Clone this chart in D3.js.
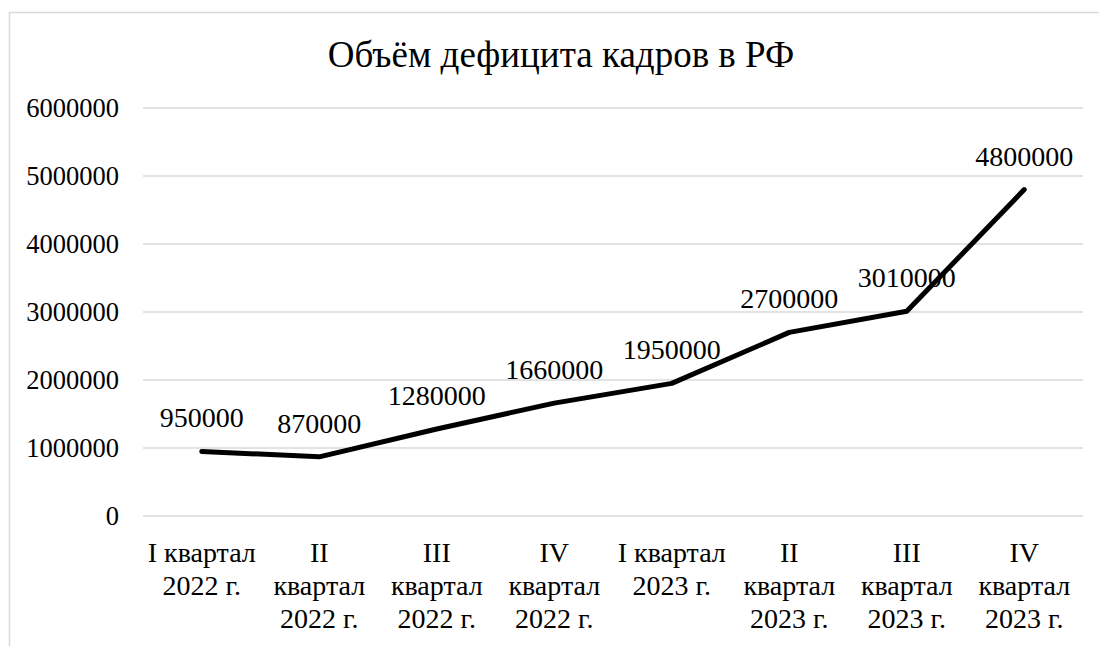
<!DOCTYPE html>
<html>
<head>
<meta charset="utf-8">
<script src="https://cdn.jsdelivr.net/npm/d3@7"></script>
<style>
  body { margin: 0; background: #fff; }
</style>
</head>
<body>
<div id="chart"></div>
<script>
const titleText = "Объём дефицита кадров в РФ";
const categories = ["I квартал 2022 г.", "II квартал 2022 г.", "III квартал 2022 г.", "IV квартал 2022 г.",
                    "I квартал 2023 г.", "II квартал 2023 г.", "III квартал 2023 г.", "IV квартал 2023 г."];
const values = [950000, 870000, 1280000, 1660000, 1950000, 2700000, 3010000, 4800000];
const yTicks = [0, 1000000, 2000000, 3000000, 4000000, 5000000, 6000000];

const width = 1099;
const height = 646;
const margin = {top: 108, right: 16, bottom: 130, left: 143};
const font = "Liberation Serif";

const svg = d3.select("#chart")
  .append("svg")
  .attr("width", width)
  .attr("height", height)
  .attr("font-family", font);

// outer chart frame (runs off the right/bottom edge)
svg.append("rect")
  .attr("x", 9.5)
  .attr("y", 12.5)
  .attr("width", 1200)
  .attr("height", 800)
  .attr("fill", "none")
  .attr("stroke", "#d9d9d9")
  .attr("stroke-width", 1.5);

svg.append("text")
  .attr("x", 561)
  .attr("y", 67)
  .attr("text-anchor", "middle")
  .attr("font-family", font)
  .attr("font-size", 37)
  .text(titleText);

const x = d3.scaleBand()
  .domain(categories)
  .range([margin.left, width - margin.right]);

const y = d3.scaleLinear()
  .domain([0, 6000000])
  .range([height - margin.bottom, margin.top]);

// gridlines
svg.append("g")
  .selectAll("line")
  .data(yTicks)
  .join("line")
    .attr("x1", margin.left)
    .attr("x2", width - margin.right)
    .attr("y1", d => y(d))
    .attr("y2", d => y(d))
    .attr("stroke", "#d9d9d9")
    .attr("stroke-width", 1.5);

// y labels
svg.append("g")
  .selectAll("text")
  .data(yTicks)
  .join("text")
    .attr("x", 119)
    .attr("y", d => y(d))
    .attr("dy", "0.35em")
    .attr("text-anchor", "end")
    .attr("font-family", font)
    .attr("font-size", 26.5)
    .text(d => d);

// x labels, wrapped to band width
const xl = svg.append("g")
  .selectAll("text")
  .data(categories)
  .join("text")
    .attr("x", d => x(d) + x.bandwidth() / 2)
    .attr("y", 562)
    .attr("text-anchor", "middle")
    .attr("font-family", font)
    .attr("font-size", 28);

xl.each(function(d) {
  const t = d3.select(this);
  const words = d.split(" ");
  const maxW = x.bandwidth() - 2;
  let lines = [];
  let cur = [];
  const probe = t.append("tspan");
  words.forEach(w => {
    const trial = cur.concat([w]).join(" ");
    probe.text(trial);
    if (cur.length && probe.node().getComputedTextLength() > maxW) {
      lines.push(cur.join(" "));
      cur = [w];
    } else {
      cur.push(w);
    }
  });
  lines.push(cur.join(" "));
  probe.remove();
  lines.forEach((ln, i) => {
    t.append("tspan")
      .attr("x", x(d) + x.bandwidth() / 2)
      .attr("dy", i === 0 ? 0 : 33)
      .text(ln);
  });
});

// the line
const line = d3.line()
  .x((d, i) => x(categories[i]) + x.bandwidth() / 2)
  .y(d => y(d));

svg.append("path")
  .datum(values)
  .attr("d", line)
  .attr("fill", "none")
  .attr("stroke", "#000")
  .attr("stroke-width", 5)
  .attr("stroke-linecap", "round")
  .attr("stroke-linejoin", "round");

// data labels
svg.append("g")
  .selectAll("text")
  .data(values)
  .join("text")
    .attr("x", (d, i) => x(categories[i]) + x.bandwidth() / 2)
    .attr("y", d => y(d) - 24)
    .attr("text-anchor", "middle")
    .attr("font-family", font)
    .attr("font-size", 28)
    .text(d => d);
</script>
</body>
</html>
